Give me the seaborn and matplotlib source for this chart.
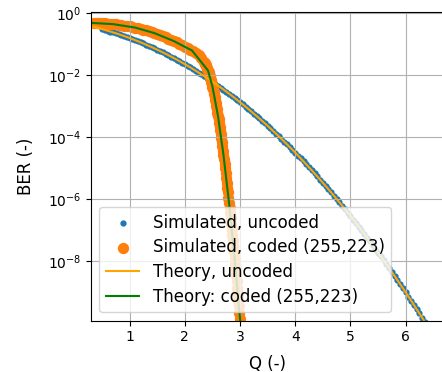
import numpy as np
import matplotlib
matplotlib.use("Agg")
import matplotlib.pyplot as plt
import seaborn as sns

# Simulated BER without coding, Q swept 0.50 ... 6.45 in steps of 0.05
q_sim_uncoded = np.round(np.arange(0.50, 6.451, 0.05), 2)
ber_sim_uncoded = [
    3.09e-01, 2.91e-01, 2.74e-01, 2.58e-01, 2.42e-01, 2.27e-01, 2.12e-01, 1.98e-01, 1.84e-01, 1.71e-01,
    1.59e-01, 1.47e-01, 1.36e-01, 1.25e-01, 1.15e-01, 1.06e-01, 9.68e-02, 8.85e-02, 8.08e-02, 7.35e-02,
    6.68e-02, 6.06e-02, 5.48e-02, 4.95e-02, 4.46e-02, 4.01e-02, 3.59e-02, 3.22e-02, 2.87e-02, 2.56e-02,
    2.28e-02, 2.02e-02, 1.79e-02, 1.58e-02, 1.39e-02, 1.22e-02, 1.07e-02, 9.39e-03, 8.20e-03, 7.14e-03,
    6.21e-03, 5.39e-03, 4.66e-03, 4.02e-03, 3.47e-03, 2.98e-03, 2.56e-03, 2.19e-03, 1.87e-03, 1.59e-03,
    1.35e-03, 1.14e-03, 9.68e-04, 8.16e-04, 6.87e-04, 5.77e-04, 4.83e-04, 4.04e-04, 3.37e-04, 2.80e-04,
    2.33e-04, 1.93e-04, 1.59e-04, 1.31e-04, 1.08e-04, 8.84e-05, 7.23e-05, 5.91e-05, 4.81e-05, 3.91e-05,
    3.17e-05, 2.56e-05, 2.07e-05, 1.66e-05, 1.33e-05, 1.07e-05, 8.54e-06, 6.81e-06, 5.41e-06, 4.29e-06,
    3.40e-06, 2.68e-06, 2.11e-06, 1.66e-06, 1.30e-06, 1.02e-06, 7.93e-07, 6.17e-07, 4.79e-07, 3.71e-07,
    2.87e-07, 2.21e-07, 1.70e-07, 1.30e-07, 9.96e-08, 7.60e-08, 5.79e-08, 4.40e-08, 3.33e-08, 2.52e-08,
    1.90e-08, 1.43e-08, 1.07e-08, 8.02e-09, 5.99e-09, 4.46e-09, 3.32e-09, 2.46e-09, 1.82e-09, 1.34e-09,
    9.87e-10, 7.24e-10, 5.30e-10, 3.87e-10, 2.82e-10, 2.05e-10, 1.49e-10, 1.08e-10, 7.77e-11, 5.59e-11,
]

# Simulated BER after RS(255,223) decoding
q_sim_coded = np.concatenate([
    np.round(np.arange(0.35, 2.351, 0.05), 2),
    np.round(np.arange(2.36, 3.121, 0.01), 2),
])
ber_sim_coded = [
    4.88e-01, 4.85e-01, 4.81e-01, 4.76e-01, 4.70e-01, 4.63e-01, 4.56e-01, 4.47e-01, 4.38e-01, 4.27e-01,
    4.16e-01, 4.03e-01, 3.90e-01, 3.76e-01, 3.61e-01, 3.46e-01, 3.30e-01, 3.13e-01, 2.96e-01, 2.80e-01,
    2.63e-01, 2.46e-01, 2.29e-01, 2.13e-01, 1.97e-01, 1.82e-01, 1.67e-01, 1.53e-01, 1.40e-01, 1.27e-01,
    1.15e-01, 1.04e-01, 9.40e-02, 8.44e-02, 7.55e-02, 6.74e-02, 5.99e-02, 5.28e-02, 4.56e-02, 3.73e-02,
    2.76e-02, 2.56e-02, 2.36e-02, 2.16e-02, 1.97e-02, 1.78e-02, 1.59e-02, 1.42e-02, 1.26e-02, 1.10e-02,
    9.62e-03, 8.32e-03, 7.14e-03, 6.08e-03, 5.14e-03, 4.31e-03, 3.58e-03, 2.96e-03, 2.43e-03, 1.97e-03,
    1.59e-03, 1.27e-03, 1.01e-03, 7.99e-04, 6.26e-04, 4.87e-04, 3.76e-04, 2.88e-04, 2.19e-04, 1.66e-04,
    1.24e-04, 9.26e-05, 6.85e-05, 5.04e-05, 3.68e-05, 2.67e-05, 1.93e-05, 1.38e-05, 9.84e-06, 6.96e-06,
    4.90e-06, 3.43e-06, 2.38e-06, 1.65e-06, 1.13e-06, 7.75e-07, 5.27e-07, 3.57e-07, 2.40e-07, 1.61e-07,
    1.07e-07, 7.08e-08, 4.67e-08, 3.06e-08, 2.00e-08, 1.30e-08, 8.40e-09, 5.41e-09, 3.47e-09, 2.21e-09,
    1.40e-09, 8.88e-10, 5.60e-10, 3.51e-10, 2.19e-10, 1.36e-10, 8.45e-11, 5.21e-11, 3.20e-11, 1.96e-11,
    1.20e-11, 7.28e-12, 4.41e-12, 2.66e-12, 1.60e-12, 9.58e-13, 5.72e-13, 3.41e-13,
]

# Theoretical curves
q_th_uncoded = np.round(np.arange(0.30, 6.701, 0.10), 2)
ber_th_uncoded = [
    3.82e-01, 3.45e-01, 3.09e-01, 2.74e-01, 2.42e-01, 2.12e-01, 1.84e-01, 1.59e-01, 1.36e-01, 1.15e-01,
    9.68e-02, 8.08e-02, 6.68e-02, 5.48e-02, 4.46e-02, 3.59e-02, 2.87e-02, 2.28e-02, 1.79e-02, 1.39e-02,
    1.07e-02, 8.20e-03, 6.21e-03, 4.66e-03, 3.47e-03, 2.56e-03, 1.87e-03, 1.35e-03, 9.68e-04, 6.87e-04,
    4.83e-04, 3.37e-04, 2.33e-04, 1.59e-04, 1.08e-04, 7.23e-05, 4.81e-05, 3.17e-05, 2.07e-05, 1.33e-05,
    8.54e-06, 5.41e-06, 3.40e-06, 2.11e-06, 1.30e-06, 7.93e-07, 4.79e-07, 2.87e-07, 1.70e-07, 9.96e-08,
    5.79e-08, 3.33e-08, 1.90e-08, 1.07e-08, 5.99e-09, 3.32e-09, 1.82e-09, 9.87e-10, 5.30e-10, 2.82e-10,
    1.49e-10, 7.77e-11, 4.02e-11, 2.06e-11, 1.04e-11,
]

q_th_coded = [0.30, 0.70, 1.10, 1.45, 1.80, 2.13, 2.42, 2.50, 2.60, 2.70, 2.80, 2.90, 3.00, 3.10]
ber_th_coded = [
    4.91e-01, 4.47e-01, 3.46e-01, 2.29e-01, 1.27e-01, 6.28e-02, 1.42e-02,
    4.31e-03, 4.87e-04, 2.67e-05, 7.75e-07, 1.30e-08, 1.36e-10, 9.58e-13,
]

ber_ticks = [1e0, 1e-2, 1e-4, 1e-6, 1e-8]

fig = plt.figure(figsize=(4.42, 3.72), dpi=100)
ax = fig.add_axes([0.2059, 0.1379, 0.7968, 0.8298])

sns.scatterplot(x=q_sim_uncoded, y=ber_sim_uncoded, ax=ax, marker=".", s=36,
                color="C0", edgecolor="face", linewidth=1.5, label="Simulated, uncoded")
sns.scatterplot(x=q_sim_coded, y=ber_sim_coded, ax=ax, marker="o", s=44,
                color="C1", edgecolor="face", linewidth=1.5, label="Simulated, coded (255,223)")
sns.lineplot(x=q_th_uncoded, y=ber_th_uncoded, ax=ax, color="orange", linewidth=1.5,
             sort=False, label="Theory, uncoded")
sns.lineplot(x=q_th_coded, y=ber_th_coded, ax=ax, color="green", linewidth=1.5,
             sort=False, label="Theory: coded (255,223)")

ax.set_yscale("log")
ax.set_yticks(ber_ticks)
ax.minorticks_off()
ax.set_xlim(0.3, 6.68)
ax.set_ylim(1.2e-10, 1.1)
ax.grid(True)
ax.set_xlabel("Q (-)", fontsize=12, labelpad=7.5)
ax.set_ylabel("BER (-)", fontsize=12, labelpad=9)
ax.legend(loc="lower left", fontsize=12, labelspacing=0.4)

fig.savefig("out.png", dpi=100)
